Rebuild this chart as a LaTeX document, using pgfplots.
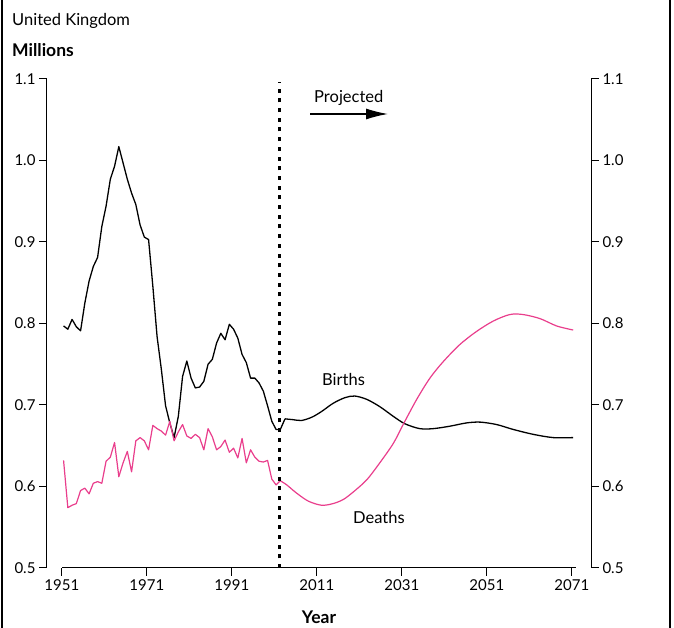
\documentclass[border=0pt]{standalone}
\usepackage{fontspec}
\setmainfont{Lato}
\usepackage{pgfplots}
\pgfplotsset{compat=1.18}
\usetikzlibrary{arrows.meta}
\definecolor{deathpink}{RGB}{233,62,140}

\pgfplotsset{
  ukaxis/.style={
    scale only axis, width=544pt, height=489pt,
    xmin=1947.5, xmax=2075.5, ymin=0.5, ymax=1.1,
    axis line style={-, line width=1pt},
    tick align=outside, major tick length=8pt,
    tick style={line width=1pt, black},
    ticklabel style={font=\fontsize{15}{18}\selectfont},
    /pgf/number format/assume math mode=true,
    ytick={0.5,0.6,0.7,0.8,0.9,1.0,1.1},
    yticklabel style={/pgf/number format/.cd, fixed, fixed zerofill, precision=1},
    xtick={1951,1971,...,2071},
    xticklabel style={/pgf/number format/set thousands separator={}},
  },
}

\begin{document}
\begin{tikzpicture}
\path[use as bounding box] (-47pt,-60pt) rectangle (627pt,568pt);

% left axis with the data
\begin{axis}[ukaxis, axis x line=none, axis y line*=left, clip=false]
  % births, registered
  \addplot[black, line width=1.3pt, line join=round] coordinates {
    (1951.4,0.797)(1952.4,0.793)(1953.4,0.805)(1954.4,0.796)(1955.4,0.791)
    (1956.4,0.825)(1957.4,0.852)(1958.4,0.870)(1959.4,0.881)(1960.4,0.919)
    (1961.4,0.944)(1962.4,0.977)(1963.4,0.993)(1964.4,1.017)(1965.4,0.997)
    (1966.4,0.977)(1967.4,0.960)(1968.4,0.946)(1969.4,0.921)(1970.4,0.906)
    (1971.4,0.903)(1972.4,0.846)(1973.4,0.784)(1974.4,0.744)(1975.4,0.699)
    (1976.4,0.678)(1977.4,0.660)(1978.4,0.686)(1979.4,0.735)(1980.4,0.754)
    (1981.4,0.733)(1982.4,0.721)(1983.4,0.722)(1984.4,0.729)(1985.4,0.750)
    (1986.4,0.756)(1987.4,0.776)(1988.4,0.788)(1989.4,0.780)(1990.4,0.799)
    (1991.4,0.793)(1992.4,0.782)(1993.4,0.762)(1994.4,0.752)(1995.4,0.733)
    (1996.4,0.733)(1997.4,0.727)(1998.4,0.717)(1999.4,0.699)(2000.4,0.680)
    (2001.4,0.670)(2002.4,0.670)(2003.5,0.683)};
  % births, projected
  \addplot[black, line width=1.3pt, smooth] coordinates {
    (2003.5,0.683)(2005.4,0.682)(2007.4,0.681)(2009.8,0.685)(2012.1,0.692)
    (2014.8,0.702)(2017.6,0.709)(2019.9,0.711)(2022.7,0.707)(2025.8,0.698)
    (2029.0,0.686)(2031.7,0.677)(2035.2,0.671)(2038.4,0.671)(2042.3,0.674)
    (2046.2,0.678)(2049.4,0.679)(2053.3,0.676)(2057.2,0.670)(2061.9,0.664)
    (2066.6,0.660)(2071.3,0.660)};
  % deaths, registered
  \addplot[deathpink, line width=1.2pt, line join=round] coordinates {
    (1951.4,0.632)(1952.4,0.574)(1953.4,0.577)(1954.4,0.579)(1955.4,0.595)
    (1956.4,0.598)(1957.4,0.591)(1958.4,0.604)(1959.4,0.606)(1960.4,0.604)
    (1961.4,0.631)(1962.4,0.636)(1963.4,0.654)(1964.4,0.612)(1965.4,0.629)
    (1966.4,0.643)(1967.4,0.618)(1968.4,0.656)(1969.4,0.660)(1970.4,0.656)
    (1971.4,0.645)(1972.4,0.675)(1973.4,0.671)(1974.4,0.668)(1975.4,0.663)
    (1976.4,0.680)(1977.4,0.656)(1978.4,0.667)(1979.4,0.676)(1980.4,0.662)
    (1981.4,0.659)(1982.4,0.664)(1983.4,0.660)(1984.4,0.645)(1985.4,0.671)
    (1986.4,0.661)(1987.4,0.645)(1988.4,0.649)(1989.4,0.657)(1990.4,0.642)
    (1991.4,0.647)(1992.4,0.635)(1993.4,0.659)(1994.4,0.629)(1995.4,0.645)
    (1996.4,0.636)(1997.4,0.631)(1998.4,0.630)(1999.4,0.632)(2000.4,0.609)
    (2001.4,0.602)(2002.4,0.607)};
  % deaths, projected
  \addplot[deathpink, line width=1.2pt, smooth] coordinates {
    (2002.4,0.607)(2003.9,0.602)(2006.2,0.592)(2009.0,0.582)(2012.1,0.577)
    (2014.8,0.579)(2017.2,0.584)(2019.5,0.593)(2022.7,0.608)(2025.8,0.629)
    (2029.0,0.653)(2031.3,0.676)(2034.5,0.707)(2037.6,0.733)(2040.7,0.753)
    (2044.6,0.774)(2048.5,0.790)(2052.5,0.803)(2056.4,0.811)(2059.5,0.811)
    (2063.5,0.806)(2067.4,0.797)(2071.3,0.792)};
  % start of projection
  \draw[black, line width=3pt, dash pattern=on 4pt off 5.7pt]
    (axis cs:2002.3,0.5) -- (axis cs:2002.3,1.096);
\end{axis}

% right axis
\begin{axis}[ukaxis, axis x line=none, axis y line*=right]
\end{axis}

% bottom axis
\begin{axis}[ukaxis, axis y line=none, axis x line*=bottom,
  x axis line style={shorten <=15pt, shorten >=15pt}]
\end{axis}

\begin{scope}[font=\fontsize{16.5}{19}\selectfont]
  \node[anchor=base west, inner sep=0pt] at (-35pt,542pt) {United Kingdom};
  \node[anchor=base west, inner sep=0pt, font=\bfseries\fontsize{17.5}{20}\selectfont] at (-35pt,511pt) {Millions};
  \node[anchor=base west, inner sep=0pt] at (267pt,465pt) {Projected};
  \draw[line width=1.2pt, -{Latex[length=22pt, width=11pt]}] (263pt,454pt) -- (341pt,454pt);
  \node[anchor=base west, inner sep=0pt] at (275pt,182pt) {Births};
  \node[anchor=base west, inner sep=0pt] at (306pt,44pt) {Deaths};
  \node[anchor=base, inner sep=0pt, font=\bfseries\fontsize{17.5}{20}\selectfont] at (272pt,-56pt) {Year};
\end{scope}
\draw[line width=1.2pt] (-45pt,-60pt) -- (-45pt,568pt);
\draw[line width=1.2pt] (623pt,-60pt) -- (623pt,568pt);
\end{tikzpicture}
\end{document}
